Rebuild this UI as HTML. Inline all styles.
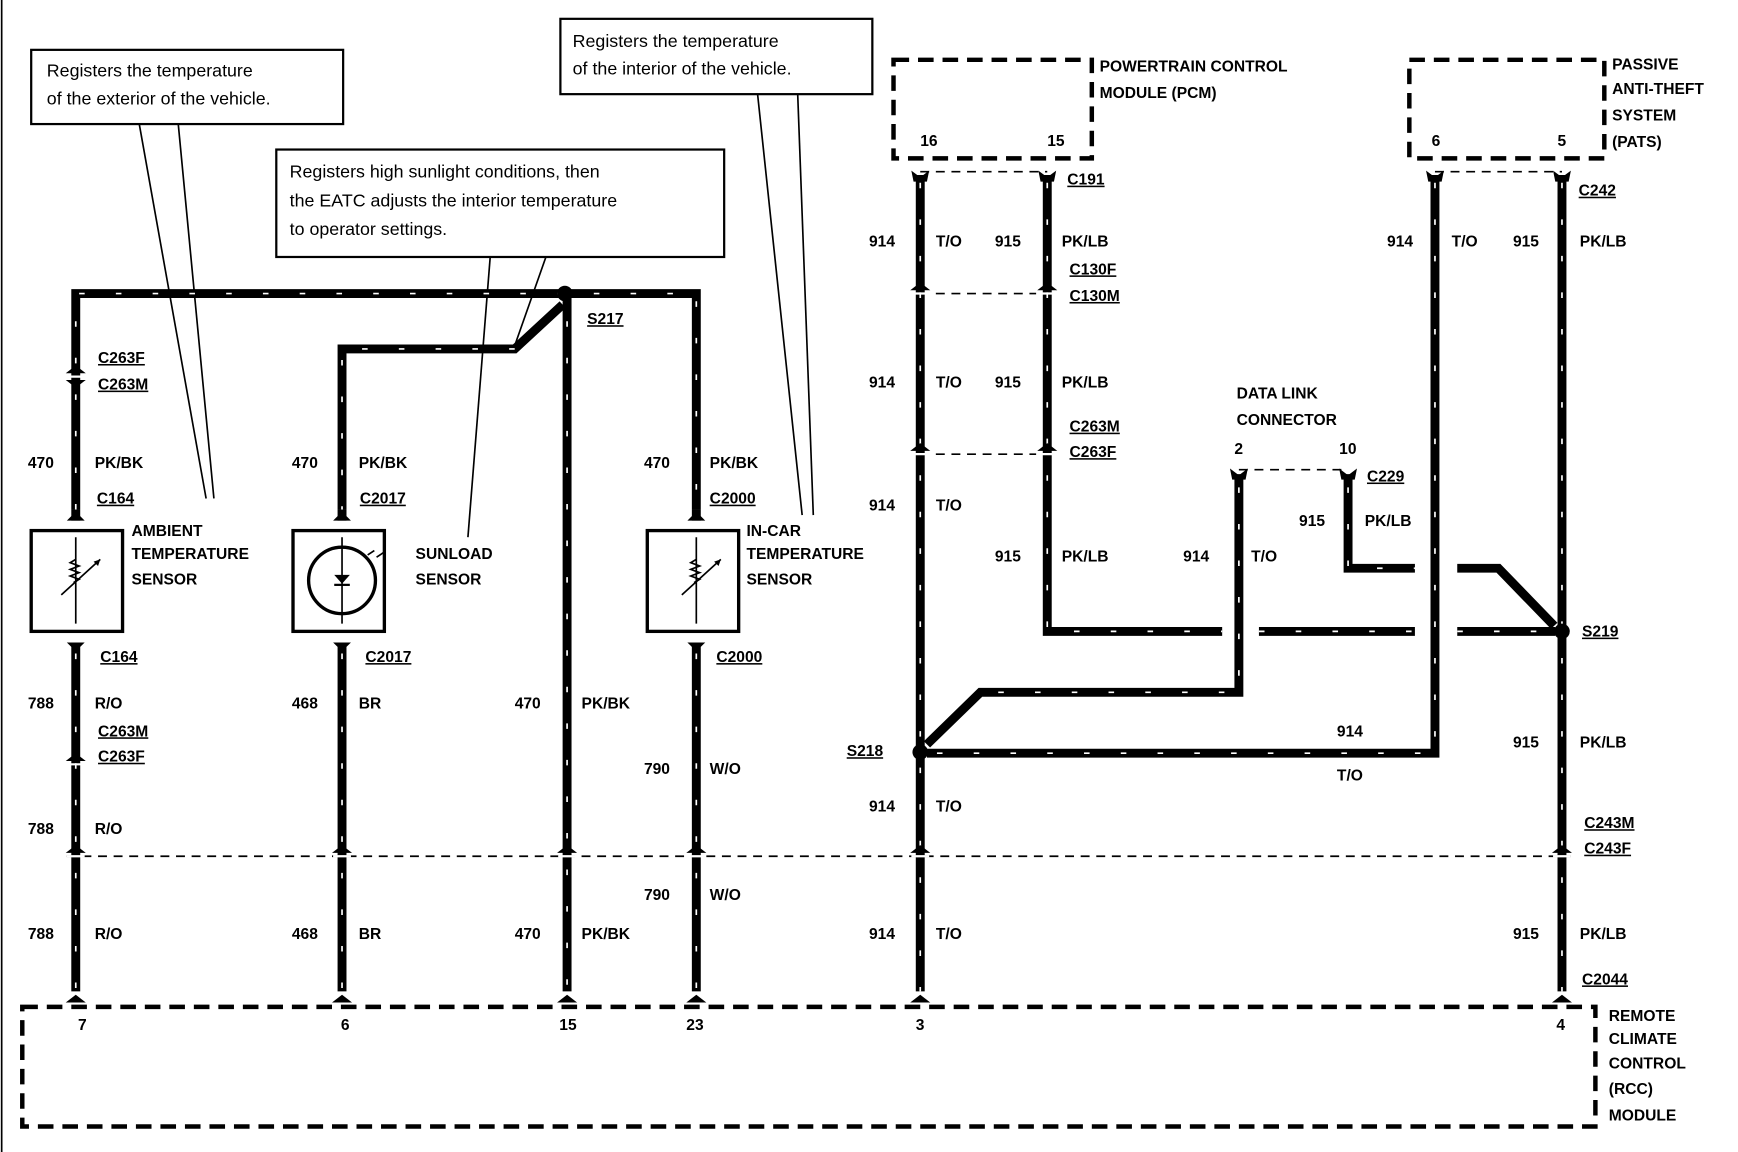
<!DOCTYPE html>
<html><head><meta charset="utf-8"><style>
html,body{margin:0;padding:0;background:#fff;}
svg{display:block}
text{font-family:"Liberation Sans",sans-serif;font-weight:bold;font-size:14px;fill:#000;dominant-baseline:middle}
.c{font-weight:normal;font-size:16px}
.u{text-decoration:underline}
</style></head><body>
<svg width="1738" height="1152" viewBox="0 0 1560 1040" preserveAspectRatio="none" xmlns="http://www.w3.org/2000/svg">
<rect width="1560" height="1040" fill="#fff"/>
<line x1="1.5" y1="0" x2="1.5" y2="1040" stroke="#000" stroke-width="1.5"/>

<!-- callouts -->
<g fill="#fff" stroke="#000" stroke-width="2">
<rect x="28" y="45" width="280" height="67"/>
<rect x="248" y="135" width="402" height="97"/>
<rect x="503" y="17" width="280" height="68"/>
</g>
<g stroke="#000" stroke-width="1.5" fill="none">
<polyline points="125,112 185,450"/>
<polyline points="160,112 192,450"/>
<polyline points="440,232 420,485"/>
<polyline points="490,232 462,312"/>
<polyline points="680,85 720,465"/>
<polyline points="716,85 730,465"/>
</g>
<text class="c" x="42" y="65">Registers the temperature</text>
<text class="c" x="42" y="90">of the exterior of the vehicle.</text>
<text class="c" x="260" y="156">Registers high sunlight conditions, then</text>
<text class="c" x="260" y="182">the EATC adjusts the interior temperature</text>
<text class="c" x="260" y="208">to operator settings.</text>
<text class="c" x="514" y="38">Registers the temperature</text>
<text class="c" x="514" y="63">of the interior of the vehicle.</text>

<!-- dashed boxes -->
<g fill="none" stroke="#000" stroke-width="4" stroke-dasharray="14 8">
<rect x="802" y="54" width="178" height="89"/>
<rect x="1265" y="54" width="175" height="89"/>
<rect x="20" y="909" width="1412" height="108"/>
</g>
<g fill="none" stroke="#000" stroke-width="1.5" stroke-dasharray="8 6">
<line x1="60" y1="773" x2="1410" y2="773"/>
<line x1="826" y1="155" x2="940" y2="155"/>
<line x1="826" y1="265" x2="940" y2="265"/>
<line x1="826" y1="410" x2="940" y2="410"/>
<line x1="1112" y1="424" x2="1210" y2="424"/>
<line x1="1288" y1="155" x2="1402" y2="155"/>
</g>

<!-- wires -->
<g fill="none" stroke="#000" stroke-width="8" stroke-linejoin="miter">
<polyline points="68,460 68,265 625,265 625,460"/>
<line x1="509" y1="265" x2="509" y2="895"/>
<polyline points="505,275 462,315 307,315 307,460"/>
<line x1="68" y1="580" x2="68" y2="895"/>
<line x1="307" y1="580" x2="307" y2="895"/>
<line x1="625" y1="580" x2="625" y2="895"/>
<line x1="826" y1="158" x2="826" y2="895"/>
<polyline points="940,158 940,570 1097,570"/>
<line x1="1130" y1="570" x2="1270" y2="570"/>
<line x1="1308" y1="570" x2="1396" y2="570"/>
<polyline points="1112,428 1112,625 880,625 832,672"/>
<polyline points="1210,428 1210,513 1270,513"/>
<polyline points="1308,513 1345,513 1395,565"/>
<polyline points="1288,158 1288,680 832,680"/>
<line x1="1402" y1="158" x2="1402" y2="895"/>
</g>
<!-- ticks -->
<g fill="none" stroke="#fff" stroke-width="1.5" stroke-dasharray="5 28">
<polyline points="68,460 68,265 625,265 625,460"/>
<line x1="509" y1="290" x2="509" y2="895"/>
<polyline points="462,315 307,315 307,460"/>
<line x1="68" y1="590" x2="68" y2="895"/>
<line x1="307" y1="590" x2="307" y2="895"/>
<line x1="625" y1="590" x2="625" y2="895"/>
<line x1="826" y1="165" x2="826" y2="895"/>
<polyline points="940,165 940,570 1097,570"/>
<line x1="1130" y1="570" x2="1270" y2="570"/>
<line x1="1308" y1="570" x2="1390" y2="570"/>
<polyline points="1112,440 1112,625 880,625"/>
<polyline points="1210,440 1210,513 1270,513"/>
<polyline points="1288,165 1288,680 840,680"/>
<line x1="1402" y1="165" x2="1402" y2="895"/>
</g>
<!-- splices -->
<g fill="#000">
<circle cx="507" cy="265" r="7"/>
<circle cx="826" cy="679" r="7"/>
<circle cx="1402" cy="570" r="7"/>
</g>
<!-- connector glyphs (female tops) -->
<g fill="#000">
<path d="M932 154 l8 6 l8 -6 l-2 10 l-12 0 Z"/>
<path d="M818 154 l8 6 l8 -6 l-2 10 l-12 0 Z"/>
<path d="M1280 154 l8 6 l8 -6 l-2 10 l-12 0 Z"/><path d="M1394 154 l8 6 l8 -6 l-2 10 l-12 0 Z"/>
<path d="M1104 423 l8 6 l8 -6 l-2 10 l-12 0 Z"/><path d="M1202 423 l8 6 l8 -6 l-2 10 l-12 0 Z"/>
</g>
<g fill="#000">
<!-- sensor top/bottom connectors -->
<path d="M60 470 l4 -4 l8 0 l4 4 Z"/><path d="M299 470 l4 -4 l8 0 l4 4 Z"/><path d="M617 470 l4 -4 l8 0 l4 4 Z"/>
<path d="M60 580 l4 4 l8 0 l4 -4 Z"/><path d="M299 580 l4 4 l8 0 l4 -4 Z"/><path d="M617 580 l4 4 l8 0 l4 -4 Z"/>
<rect x="64" y="460" width="8" height="10"/><rect x="303" y="460" width="8" height="10"/><rect x="621" y="460" width="8" height="10"/>
<!-- inline connectors -->
<g stroke="#fff" stroke-width="2">
<line x1="58" y1="340" x2="78" y2="340"/><line x1="816" y1="265" x2="836" y2="265"/><line x1="930" y1="265" x2="950" y2="265"/>
<line x1="816" y1="410" x2="836" y2="410"/><line x1="930" y1="410" x2="950" y2="410"/><line x1="58" y1="690" x2="78" y2="690"/>
<line x1="60" y1="773" x2="76" y2="773"/><line x1="299" y1="773" x2="315" y2="773"/><line x1="501" y1="773" x2="517" y2="773"/>
<line x1="617" y1="773" x2="633" y2="773"/><line x1="818" y1="773" x2="834" y2="773"/><line x1="1394" y1="773" x2="1410" y2="773"/>
</g>
<path d="M59 337 l9 -7 l9 7 Z M59 343 l9 7 l9 -7 Z"/>
<path d="M817 262 l9 -7 l9 7 Z"/><path d="M931 262 l9 -7 l9 7 Z"/>
<path d="M817 407 l9 -7 l9 7 Z"/><path d="M931 407 l9 -7 l9 7 Z"/>
<path d="M59 687 l9 -7 l9 7 Z"/>
<path d="M59 770 l9 -7 l9 7 Z"/><path d="M298 770 l9 -7 l9 7 Z"/><path d="M500 770 l9 -7 l9 7 Z"/><path d="M616 770 l9 -7 l9 7 Z"/><path d="M817 770 l9 -7 l9 7 Z"/><path d="M1393 770 l9 -7 l9 7 Z"/>
<path d="M59 905 l9 -7 l9 7 Z"/><path d="M298 905 l9 -7 l9 7 Z"/><path d="M500 905 l9 -7 l9 7 Z"/><path d="M616 905 l9 -7 l9 7 Z"/><path d="M817 905 l9 -7 l9 7 Z"/><path d="M1393 905 l9 -7 l9 7 Z"/>
</g>

<!-- sensors -->
<g fill="none" stroke="#000">
<rect x="28" y="479" width="82" height="91" stroke-width="3"/>
<rect x="263" y="479" width="82" height="91" stroke-width="3"/>
<rect x="581" y="479" width="82" height="91" stroke-width="3"/>
<g stroke-width="1.5">
<line x1="68" y1="485" x2="68" y2="563"/>
<path d="M68 505 l-5 3 l8 3 l-8 3 l8 3 l-8 3 l8 3 l-5 3"/>
<line x1="55" y1="537" x2="90" y2="505"/>
<line x1="625" y1="485" x2="625" y2="563"/>
<path d="M625 505 l-5 3 l8 3 l-8 3 l8 3 l-8 3 l8 3 l-5 3"/>
<line x1="612" y1="537" x2="647" y2="505"/>
<line x1="307" y1="485" x2="307" y2="563"/>
<circle cx="307" cy="524" r="30" stroke-width="3"/>
<path d="M336 497 l-6 4 M344 499 l-6 4"/>
</g>
</g>
<path d="M300 519 h14 l-7 8 Z" fill="#000"/><line x1="300" y1="528" x2="314" y2="528" stroke="#000" stroke-width="2"/>
<polygon points="90,505 84,507 88,511" fill="#000"/><polygon points="647,505 641,507 645,511" fill="#000"/>

<!-- labels -->
<text x="987" y="61">POWERTRAIN CONTROL</text>
<text x="987" y="85">MODULE (PCM)</text>
<text x="826" y="128" font-size="11">16</text><text x="940" y="128" font-size="11">15</text>
<text x="1447" y="59">PASSIVE</text><text x="1447" y="81">ANTI-THEFT</text><text x="1447" y="105">SYSTEM</text><text x="1447" y="129">(PATS)</text>
<text x="1285" y="128" font-size="11">6</text><text x="1398" y="128" font-size="11">5</text>
<text x="1444" y="918">REMOTE</text><text x="1444" y="939">CLIMATE</text><text x="1444" y="961">CONTROL</text><text x="1444" y="984">(RCC)</text><text x="1444" y="1008">MODULE</text>
<g font-size="11"><text x="70" y="926">7</text><text x="306" y="926">6</text><text x="502" y="926">15</text><text x="616" y="926">23</text><text x="822" y="926">3</text><text x="1397" y="926">4</text>
<text x="1108" y="406">2</text><text x="1202" y="406">10</text></g>

<text class="u" x="88" y="324">C263F</text><text class="u" x="88" y="348">C263M</text>
<text x="25" y="419">470</text><text x="85" y="419">PK/BK</text>
<text class="u" x="87" y="451">C164</text>
<text x="118" y="480">AMBIENT</text><text x="118" y="501">TEMPERATURE</text><text x="118" y="524">SENSOR</text>
<text class="u" x="90" y="594">C164</text>
<text x="25" y="636">788</text><text x="85" y="636">R/O</text>
<text class="u" x="88" y="661">C263M</text><text class="u" x="88" y="684">C263F</text>
<text x="25" y="749">788</text><text x="85" y="749">R/O</text>
<text x="25" y="844">788</text><text x="85" y="844">R/O</text>

<text x="262" y="419">470</text><text x="322" y="419">PK/BK</text>
<text class="u" x="323" y="451">C2017</text>
<text x="373" y="501">SUNLOAD</text><text x="373" y="524">SENSOR</text>
<text class="u" x="328" y="594">C2017</text>
<text x="262" y="636">468</text><text x="322" y="636">BR</text>
<text x="262" y="844">468</text><text x="322" y="844">BR</text>

<text class="u" x="527" y="289">S217</text>
<text x="462" y="636">470</text><text x="522" y="636">PK/BK</text>
<text x="462" y="844">470</text><text x="522" y="844">PK/BK</text>

<text x="578" y="419">470</text><text x="637" y="419">PK/BK</text>
<text class="u" x="637" y="451">C2000</text>
<text x="670" y="480">IN-CAR</text><text x="670" y="501">TEMPERATURE</text><text x="670" y="524">SENSOR</text>
<text class="u" x="643" y="594">C2000</text>
<text x="578" y="695">790</text><text x="637" y="695">W/O</text>
<text x="578" y="809">790</text><text x="637" y="809">W/O</text>

<text class="u" x="958" y="163">C191</text>
<text x="780" y="219">914</text><text x="840" y="219">T/O</text><text x="893" y="219">915</text><text x="953" y="219">PK/LB</text>
<text class="u" x="960" y="244">C130F</text><text class="u" x="960" y="268">C130M</text>
<text x="780" y="346">914</text><text x="840" y="346">T/O</text><text x="893" y="346">915</text><text x="953" y="346">PK/LB</text>
<text class="u" x="960" y="386">C263M</text><text class="u" x="960" y="409">C263F</text>
<text x="780" y="457">914</text><text x="840" y="457">T/O</text>
<text x="893" y="503">915</text><text x="953" y="503">PK/LB</text>
<text x="1062" y="503">914</text><text x="1123" y="503">T/O</text>
<text x="1110" y="356">DATA LINK</text><text x="1110" y="380">CONNECTOR</text>
<text class="u" x="1227" y="431">C229</text>
<text x="1166" y="471">915</text><text x="1225" y="471">PK/LB</text>
<text class="u" x="760" y="679">S218</text>
<text x="1200" y="661">914</text><text x="1200" y="701">T/O</text>
<text x="780" y="729">914</text><text x="840" y="729">T/O</text>
<text x="780" y="844">914</text><text x="840" y="844">T/O</text>

<text class="u" x="1417" y="173">C242</text>
<text x="1245" y="219">914</text><text x="1303" y="219">T/O</text>
<text x="1358" y="219">915</text><text x="1418" y="219">PK/LB</text>
<text class="u" x="1420" y="571">S219</text>
<text x="1358" y="671">915</text><text x="1418" y="671">PK/LB</text>
<text class="u" x="1422" y="744">C243M</text><text class="u" x="1422" y="767">C243F</text>
<text x="1358" y="844">915</text><text x="1418" y="844">PK/LB</text>
<text class="u" x="1420" y="885">C2044</text>
</svg>
</body></html>
